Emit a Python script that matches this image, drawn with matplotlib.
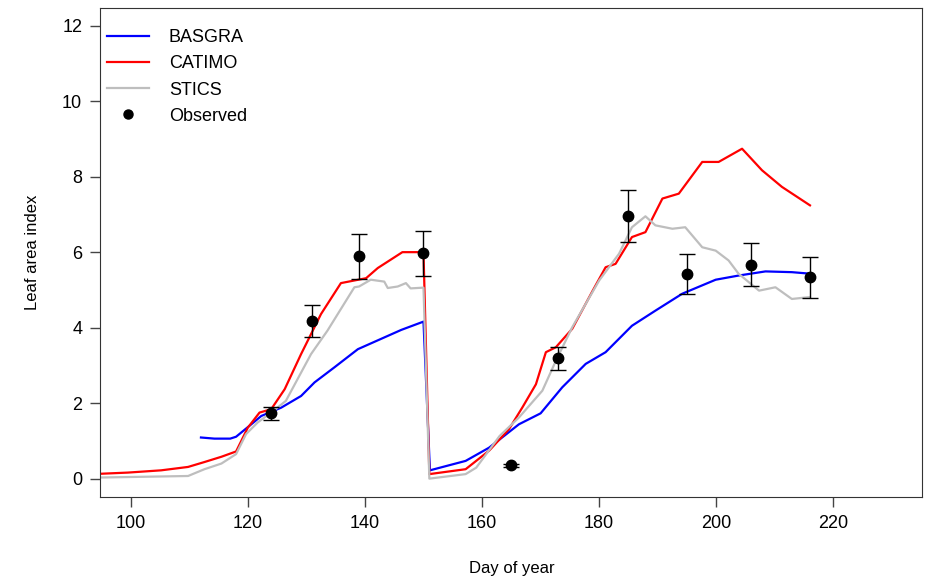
import matplotlib
matplotlib.use("Agg")
import matplotlib.pyplot as plt
from matplotlib.lines import Line2D

plt.rcParams['font.family'] = ['Liberation Sans', 'DejaVu Sans']

# simulated leaf area index
basgra_day = [112, 114.3, 117, 118, 120.6, 122.3, 125.7, 129.1, 131.4, 134.8, 138.8, 143.3,
              146.2, 150, 151.1, 157.2, 161.2, 166.3, 170, 173.7, 177.7, 181.1, 185.6,
              189.6, 194.2, 199.9, 203.8, 208.4, 212.9, 216]
basgra_lai = [1.09, 1.06, 1.06, 1.11, 1.44, 1.66, 1.88, 2.19, 2.55, 2.95, 3.43, 3.74,
              3.94, 4.16, 0.22, 0.47, 0.82, 1.44, 1.73, 2.42, 3.04, 3.35, 4.05,
              4.45, 4.9, 5.27, 5.38, 5.49, 5.47, 5.43]

catimo_day = [95, 99.5, 105.2, 109.8, 112.6, 115.5, 118, 120, 122, 124, 126.3, 129.1, 132.5,
              135.9, 140.2, 142.2, 146.4, 150, 151, 157.2, 161.2, 164.6, 166.9, 169.2,
              170.9, 172.6, 175.4, 178.9, 181.1, 182.8, 185.6, 187.9, 190.8, 193.6,
              197.6, 200.4, 204.4, 207.8, 211.2, 216]
catimo_lai = [0.13, 0.16, 0.22, 0.31, 0.44, 0.58, 0.72, 1.35, 1.75, 1.84, 2.37, 3.30, 4.36,
              5.18, 5.31, 5.58, 6.0, 6.0, 0.12, 0.25, 0.74, 1.31, 1.89, 2.50,
              3.35, 3.48, 3.97, 4.98, 5.60, 5.69, 6.40, 6.53, 7.42, 7.55,
              8.39, 8.39, 8.74, 8.17, 7.73, 7.24]

stics_day = [95, 109.8, 112.6, 115.5, 118, 119.7, 121.7, 124, 126.5, 130.8, 133.6, 138.2,
             139, 141, 143.3, 143.9, 145.6, 147, 147.8, 150, 151, 157.2, 159, 163, 166.3,
             170.3, 172.6, 175.4, 180, 183.4, 185.6, 187.9, 189.6, 192.5, 194.7, 197.6,
             199.9, 202.1, 203.8, 207.3, 210.1, 212.9, 216]
stics_lai = [0.03, 0.07, 0.25, 0.40, 0.65, 1.18, 1.49, 1.75, 2.06, 3.30, 3.92, 5.07,
             5.09, 5.27, 5.22, 5.05, 5.09, 5.18, 5.04, 5.06, 0.0, 0.12, 0.29, 1.13, 1.62,
             2.33, 3.12, 4.01, 5.25, 5.96, 6.66, 6.95, 6.71, 6.62, 6.66, 6.13,
             6.04, 5.78, 5.43, 4.98, 5.07, 4.76, 4.81]

obs_day = [124, 131, 139, 150, 165, 173, 185, 195, 206, 216]
obs_lai = [1.73, 4.17, 5.89, 5.97, 0.35, 3.19, 6.95, 5.41, 5.67, 5.33]
obs_err = [0.17, 0.42, 0.59, 0.60, 0.03, 0.31, 0.69, 0.53, 0.56, 0.54]

grey = '#BEBEBE'

fig = plt.figure(figsize=(9.28, 5.81), dpi=100)
ax = fig.add_axes([0.108, 0.145, 0.886, 0.842])

ax.plot(basgra_day, basgra_lai, color='blue', lw=1.6)
ax.plot(catimo_day, catimo_lai, color='red', lw=1.6)
ax.plot(stics_day, stics_lai, color=grey, lw=1.6)
ax.errorbar(obs_day, obs_lai, yerr=obs_err, fmt='o', color='black', ms=7.5,
            ecolor='black', elinewidth=1, capsize=6, capthick=1)

ax.set_xlim(94.8, 235.2)
ax.set_ylim(-0.48, 12.48)
ax.set_xticks(range(100, 221, 20))
ax.set_yticks(range(0, 13, 2))
ax.tick_params(direction='out', length=7, width=1, labelsize=13, color='#444444', pad=6)
for s in ax.spines.values():
    s.set_color('#333333')
ax.set_xlabel('Day of year', fontsize=12, labelpad=21)
ax.set_ylabel('Leaf area index', fontsize=12, labelpad=16)

handles = [Line2D([], [], color='blue', lw=1.6),
           Line2D([], [], color='red', lw=1.6),
           Line2D([], [], color=grey, lw=1.6),
           Line2D([], [], color='black', ls='none', marker='o', ms=6.5)]
ax.legend(handles, ['BASGRA', 'CATIMO', 'STICS', 'Observed'], loc='upper left',
          frameon=False, fontsize=13, handlelength=2.3, handletextpad=1.1,
          labelspacing=0.5, borderaxespad=0, bbox_to_anchor=(0.0, 0.97))

fig.savefig('out.png', dpi=100)
